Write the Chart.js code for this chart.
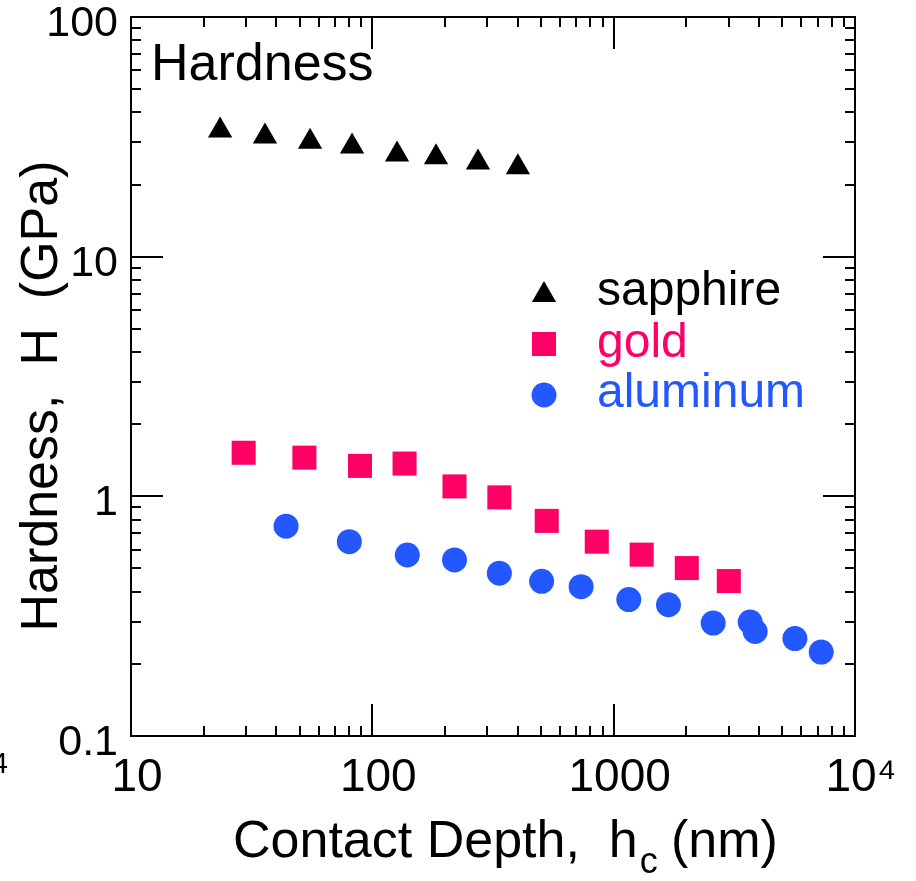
<!DOCTYPE html>
<html>
<head>
    <title>Hardness vs Contact Depth</title>
    <script src="https://cdn.jsdelivr.net/npm/chart.js"></script>
    <style>
        body { margin: 0; background: #fff; }
    </style>
</head>
<body>
    <canvas id="grafico" width="916" height="881"></canvas>

    <script>
        // Datos (nm, GPa)
        const sapphireX = [23.4, 35.9, 55.2, 82.4, 126.6, 183.6, 274, 401];
        const sapphireY = [33.6, 31.7, 30.2, 28.8, 26.7, 25.96, 24.7, 23.6];

        const goldX = [29.3, 52.3, 88.9, 136, 219, 336, 528, 851, 1306, 2009, 3000];
        const goldY = [1.52, 1.45, 1.34, 1.37, 1.10, 0.99, 0.79, 0.647, 0.571, 0.502, 0.443];

        const aluminumX = [43.9, 80.3, 139.6, 219, 336, 503, 733, 1155, 1687, 2584, 3678, 3858, 5636, 7244];
        const aluminumY = [0.751, 0.647, 0.569, 0.543, 0.478, 0.442, 0.420, 0.371, 0.353, 0.296, 0.299, 0.273, 0.255, 0.224];

        const xTicks = [10, 100, 1000, 10000];
        const yTicks = [0.1, 1, 10, 100];

        const seriesNames = ['sapphire', 'gold', 'aluminum'];
        const seriesColors = ['#000000', '#ff0066', '#2458ff'];

        const FONT = "'Liberation Sans', Arial, Helvetica, sans-serif";

        function puntos(xs, ys) {
            return xs.map((x, i) => ({ x: x, y: ys[i] }));
        }

        // Marco con marcas hacia dentro, etiquetas y leyenda
        const marco = {
            id: 'marco',
            afterDraw(chart) {
                const ctx = chart.ctx;
                const a = chart.chartArea;
                const sx = chart.scales.x;
                const sy = chart.scales.y;
                ctx.save();
                ctx.strokeStyle = '#000';
                ctx.lineWidth = 2;
                ctx.strokeRect(a.left, a.top, a.right - a.left, a.bottom - a.top);

                ctx.beginPath();
                for (let d = 10; d <= 10000; d *= 10) {
                    for (let m = 1; m <= 9; m++) {
                        const v = d * m;
                        if (v > 10000) break;
                        const px = Math.round(sx.getPixelForValue(v));
                        const len = m === 1 ? 32 : 10;
                        ctx.moveTo(px, a.bottom); ctx.lineTo(px, a.bottom - len);
                        ctx.moveTo(px, a.top); ctx.lineTo(px, a.top + len);
                    }
                }
                for (let e = -1; e <= 2; e++) {
                    const d = Math.pow(10, e);
                    for (let m = 1; m <= 9; m++) {
                        if (e === 2 && m > 1) break;
                        const py = Math.round(sy.getPixelForValue(d * m));
                        const len = m === 1 ? 32 : 10;
                        ctx.moveTo(a.left, py); ctx.lineTo(a.left + len, py);
                        ctx.moveTo(a.right, py); ctx.lineTo(a.right - len, py);
                    }
                }
                ctx.stroke();

                // Titulo interior
                ctx.fillStyle = '#000';
                ctx.textAlign = 'left';
                ctx.textBaseline = 'alphabetic';
                ctx.font = '52px ' + FONT;
                ctx.fillText('Hardness', 151, 80);

                // Titulo eje X con subindice
                ctx.fillText('Contact Depth,  h', 233, 857);
                let w = ctx.measureText('Contact Depth,  h').width;
                ctx.font = '36px ' + FONT;
                ctx.fillText('c', 233 + w + 2, 873);
                ctx.font = '52px ' + FONT;
                ctx.fillText('(nm)', 671, 857);

                // Titulo eje Y
                ctx.save();
                ctx.translate(57, 396);
                ctx.rotate(-Math.PI / 2);
                ctx.textAlign = 'center';
                ctx.fillText('Hardness,  H  (GPa)', 0, 0);
                ctx.restore();

                // trozo del panel vecino
                ctx.font = '30px ' + FONT;
                ctx.textAlign = 'right';
                ctx.fillText('4', 8, 773);

                // Leyenda
                const estilos = ['triangle', 'rect', 'circle'];
                const radios = [14, 17, 12.5];
                const yMarca = [295, 344, 395];
                const yTexto = [305, 357, 407];
                ctx.textAlign = 'left';
                ctx.font = '48px ' + FONT;
                for (let i = 0; i < 3; i++) {
                    ctx.fillStyle = seriesColors[i];
                    ctx.strokeStyle = seriesColors[i];
                    Chart.helpers.drawPoint(ctx, {
                        pointStyle: estilos[i], radius: radios[i], rotation: 0, borderWidth: 0
                    }, 544, yMarca[i]);
                    ctx.fillStyle = seriesColors[i];
                    ctx.fillText(seriesNames[i], 597, yTexto[i]);
                }
                ctx.restore();
            }
        };

        const grafico = new Chart(document.getElementById('grafico').getContext('2d'), {
            type: 'scatter',
            data: {
                datasets: [
                    {
                        label: seriesNames[0],
                        data: puntos(sapphireX, sapphireY),
                        pointStyle: 'triangle',
                        pointRadius: 14,
                        pointBorderWidth: 0,
                        backgroundColor: seriesColors[0],
                        borderColor: seriesColors[0]
                    },
                    {
                        label: seriesNames[1],
                        data: puntos(goldX, goldY),
                        pointStyle: 'rect',
                        pointRadius: 17,
                        pointBorderWidth: 0,
                        backgroundColor: seriesColors[1],
                        borderColor: seriesColors[1]
                    },
                    {
                        label: seriesNames[2],
                        data: puntos(aluminumX, aluminumY),
                        pointStyle: 'circle',
                        pointRadius: 12.5,
                        pointBorderWidth: 0,
                        backgroundColor: seriesColors[2],
                        borderColor: seriesColors[2]
                    }
                ]
            },
            options: {
                responsive: false,
                animation: false,
                layout: { padding: { top: 14, right: 61, left: 0, bottom: 0 } },
                plugins: {
                    legend: { display: false },
                    tooltip: { enabled: false }
                },
                scales: {
                    x: {
                        type: 'logarithmic',
                        min: 10,
                        max: 10000,
                        afterBuildTicks: (s) => { s.ticks = xTicks.map(v => ({ value: v })); },
                        afterFit: (s) => { s.height = 145; s.paddingLeft = 0; s.paddingRight = 0; },
                        grid: { display: false, drawTicks: false },
                        border: { display: false },
                        ticks: {
                            color: '#000',
                            font: { family: FONT, size: 46 },
                            padding: 15,
                            labelOffset: 6,
                            maxRotation: 0,
                            autoSkip: false,
                            callback: (v) => v === 10000 ? '10⁴' : String(v)
                        }
                    },
                    y: {
                        type: 'logarithmic',
                        min: 0.1,
                        max: 100,
                        afterBuildTicks: (s) => { s.ticks = yTicks.map(v => ({ value: v })); },
                        afterFit: (s) => { s.width = 131; s.paddingTop = 0; s.paddingBottom = 0; },
                        grid: { display: false, drawTicks: false },
                        border: { display: false },
                        ticks: {
                            color: '#000',
                            font: { family: FONT, size: 43 },
                            padding: 13,
                            labelOffset: 7,
                            autoSkip: false,
                            callback: (v) => String(v)
                        }
                    }
                }
            },
            plugins: [marco]
        });
    </script>
</body>
</html>
